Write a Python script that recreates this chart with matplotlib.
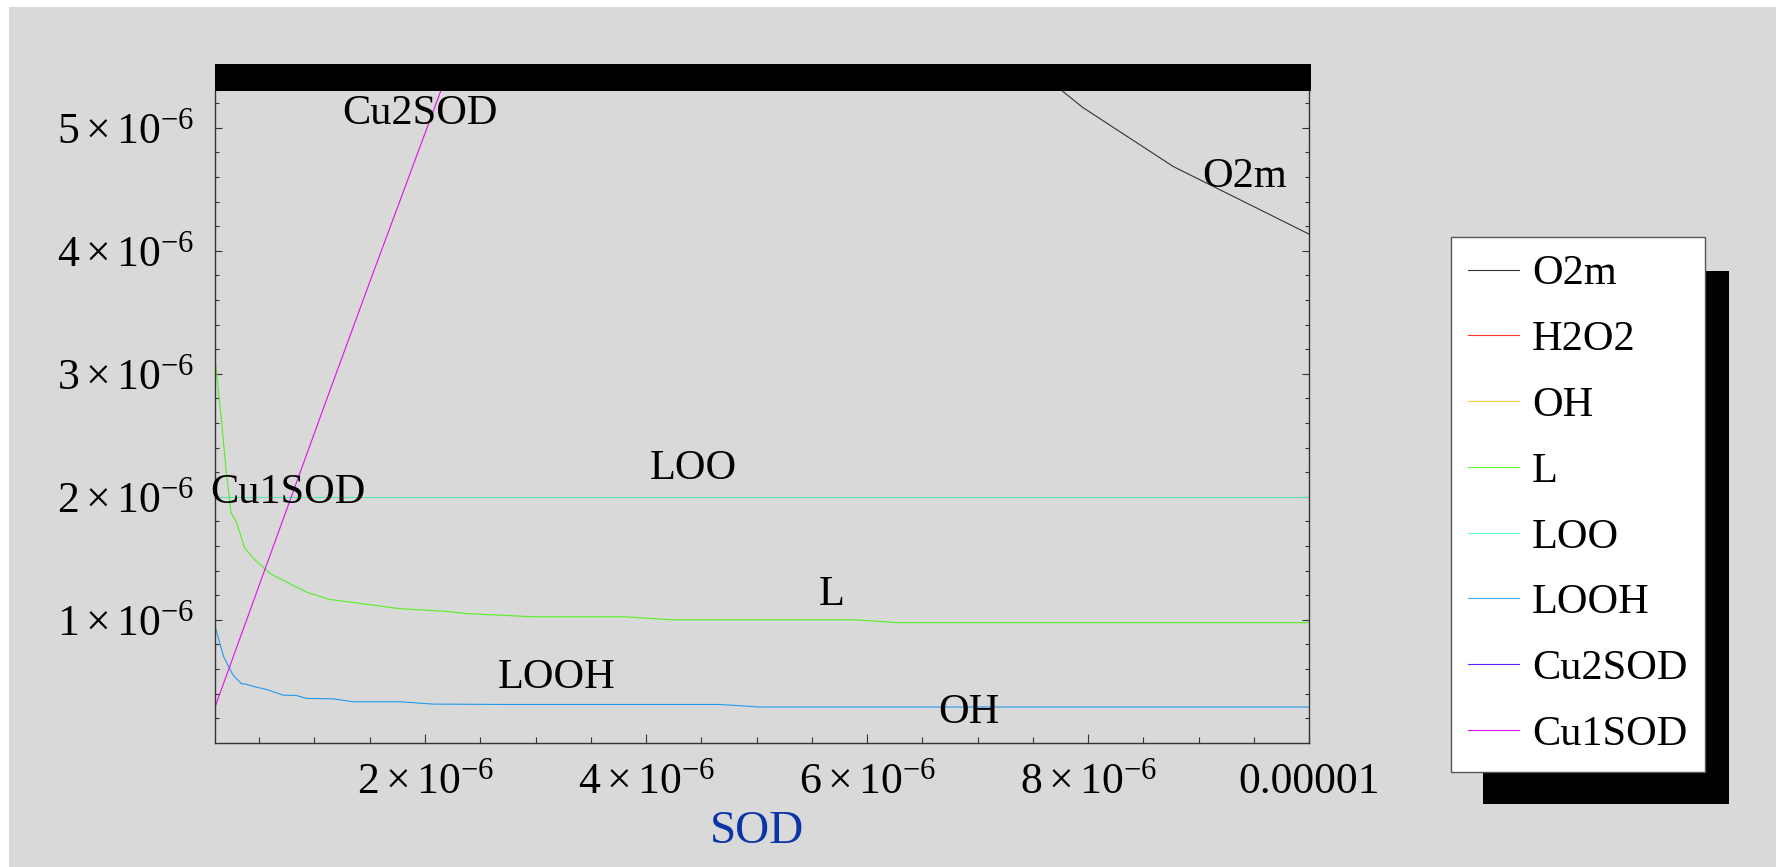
import numpy as np
import matplotlib
matplotlib.use('Agg')
from matplotlib import pyplot as plt, rc
from matplotlib.patches import Rectangle
from matplotlib.lines import Line2D

# values (x = SOD, y = concentration)
SERIES = ['O2m', 'H2O2', 'OH', 'L', 'LOO', 'LOOH', 'Cu2SOD', 'Cu1SOD']
COLORS = ['#333333', '#ff3333', '#ffcc33', '#66ff33', '#66ffbb', '#44aaff', '#6622ff', '#e010e8']

o2m_x = [7.60e-6, 7.774e-6, 7.949e-6, 8.769e-6, 1.0e-5]
o2m_y = [5.42e-6, 5.294e-6, 5.167e-6, 4.686e-6, 4.135e-6]

loo_x = [1e-7, 1e-5]
loo_y = [2.0e-6, 2.0e-6]

l_x = [1e-7, 0.158e-6, 0.20e-6, 0.245e-6, 0.296e-6, 0.367e-6, 0.457e-6, 0.608e-6, 0.94e-6,
       1.139e-6, 1.772e-6, 2.164e-6, 2.38e-6, 2.98e-6, 3.81e-6, 4.224e-6, 5.885e-6, 6.275e-6, 1e-5]
l_y = [3.135e-6, 2.626e-6, 2.22e-6, 1.87e-6, 1.79e-6, 1.585e-6, 1.49e-6, 1.37e-6, 1.22e-6,
       1.165e-6, 1.09e-6, 1.07e-6, 1.05e-6, 1.024e-6, 1.024e-6, 1.0e-6, 1.0e-6, 0.976e-6, 0.976e-6]

looh_x = [1e-7, 0.178e-6, 0.263e-6, 0.339e-6, 0.384e-6, 0.459e-6, 0.565e-6, 0.716e-6, 0.836e-6,
          0.927e-6, 1.168e-6, 1.349e-6, 1.77e-6, 2.074e-6, 2.676e-6, 4.665e-6, 5.03e-6, 1e-5]
looh_y = [0.948e-6, 0.70e-6, 0.55e-6, 0.48e-6, 0.475e-6, 0.455e-6, 0.433e-6, 0.387e-6, 0.384e-6,
          0.36e-6, 0.357e-6, 0.333e-6, 0.333e-6, 0.314e-6, 0.311e-6, 0.311e-6, 0.29e-6, 0.29e-6]

cu1_x = [1e-7, 1.108e-6, 1.506e-6, 2.2e-6]
cu1_y = [0.29e-6, 2.787e-6, 3.761e-6, 5.44e-6]

XTICKS = [2e-6, 4e-6, 6e-6, 8e-6, 1e-5]
XLABELS = [r'$2\times10^{-6}$', r'$4\times10^{-6}$', r'$6\times10^{-6}$', r'$8\times10^{-6}$', '0.00001']
YTICKS = [1e-6, 2e-6, 3e-6, 4e-6, 5e-6]
YLABELS = [r'$1\times10^{-6}$', r'$2\times10^{-6}$', r'$3\times10^{-6}$', r'$4\times10^{-6}$', r'$5\times10^{-6}$']

GREY = '#d9d9d9'
FS = 30.5
TICKFS = 31.5

rc('font', family='Liberation Serif')
rc('mathtext', fontset='custom', rm='Liberation Serif', it='Liberation Serif:italic')

W, H = 1776, 867
fig = plt.figure(figsize=(W / 100, H / 100), dpi=100)
fig.patch.set_facecolor('white')
fig.patches.append(Rectangle((9 / W, 0), 1, 1 - 7 / H, transform=fig.transFigure,
                             facecolor=GREY, edgecolor='none', zorder=-10))

ax = fig.add_axes([215 / W, 1 - 742.7 / H, (1309.3 - 215) / W, (742.7 - 91) / H])
ax.set_facecolor(GREY)

lw = 0.8
ax.plot(o2m_x, o2m_y, color=COLORS[0], lw=lw)
ax.plot(loo_x, loo_y, color='#5ce6a8', lw=lw)
ax.plot(l_x, l_y, color='#55ee22', lw=lw)
ax.plot(looh_x, looh_y, color='#2299ee', lw=lw)
ax.plot(cu1_x, cu1_y, color='#e010e8', lw=lw)

ax.set_xlim(1e-7, 1e-5)
ax.set_ylim(0, 5.3e-6)

ax.set_xticks(XTICKS, XLABELS, fontsize=TICKFS)
ax.set_xticks(np.arange(5e-7, 1e-5, 5e-7), minor=True)
ax.set_yticks(YTICKS, YLABELS, fontsize=TICKFS)
ax.set_yticks(np.arange(2e-7, 5.3e-6, 2e-7), minor=True)
ax.tick_params(axis='both', which='both', direction='in', color='#333333',
               right=True, top=False)
ax.tick_params(axis='x', which='major', length=6.5, width=0.8, pad=14)
ax.tick_params(axis='x', which='minor', length=4, width=0.8)
ax.tick_params(axis='y', which='major', length=5, width=0.8, pad=15)
ax.tick_params(axis='y', which='minor', length=3, width=0.8)
for s in ['left', 'bottom', 'right']:
    ax.spines[s].set_color('#333333')
    ax.spines[s].set_linewidth(1.0)
ax.spines['top'].set_visible(False)

# labels drawn inside the plot
ax.text(1.952e-6, 5.115e-6, 'Cu2SOD', fontsize=FS, ha='center', va='center')
ax.text(9.418e-6, 4.60e-6, 'O2m', fontsize=FS, ha='center', va='center')
ax.text(4.423e-6, 2.227e-6, 'LOO', fontsize=FS, ha='center', va='center')
ax.text(0.758e-6, 2.032e-6, 'Cu1SOD', fontsize=FS, ha='center', va='center')
ax.text(5.678e-6, 1.205e-6, 'L', fontsize=FS, ha='center', va='center')
ax.text(3.192e-6, 0.530e-6, 'LOOH', fontsize=FS, ha='center', va='center')
ax.text(6.92e-6, 0.240e-6, 'OH', fontsize=FS, ha='center', va='center')

fig.text(757 / W, 1 - 832 / H, 'SOD', fontsize=34, color='#0a35a6', ha='center', va='center')

# black bar above the plot
fig.patches.append(Rectangle((215 / W, 1 - 91 / H), (1310.7 - 215) / W, 27 / H,
                             transform=fig.transFigure, facecolor='black',
                             edgecolor='none', zorder=3))

# legend with a hard black shadow
fig.patches.append(Rectangle((1483 / W, 1 - 804 / H), (1729 - 1483) / W, (804 - 271) / H,
                             transform=fig.transFigure, facecolor='black',
                             edgecolor='none', zorder=4))
handles = [Line2D([], [], color=c, lw=0.8) for c in COLORS]
leg = fig.legend(handles, SERIES, loc='upper left',
                 bbox_to_anchor=(1450.7 / W, 1 - 237 / H), bbox_transform=fig.transFigure,
                 fontsize=FS, frameon=True, fancybox=False, borderaxespad=0,
                 handlelength=1.2, handletextpad=0.3, labelspacing=0.64,
                 borderpad=0.42)
leg.get_frame().set_facecolor('white')
leg.get_frame().set_edgecolor('#555555')
leg.get_frame().set_linewidth(1.0)
leg.get_frame().set_alpha(1)
leg.set_zorder(5)

fig.savefig('out.png', dpi=100)
